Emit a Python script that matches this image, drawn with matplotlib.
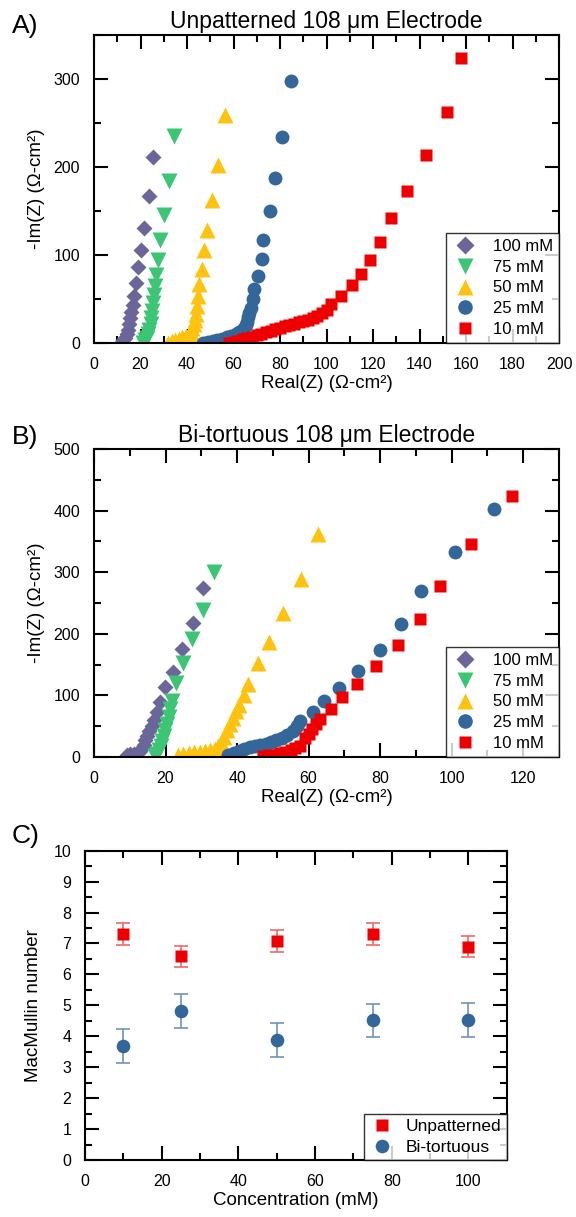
import numpy as np
import matplotlib
matplotlib.use("Agg")
import matplotlib.pyplot as plt
from matplotlib.ticker import MultipleLocator

plt.rcParams['font.family'] = ['Liberation Sans', 'DejaVu Sans']

# Nyquist data, unpatterned electrode (Real, -Im), Ohm-cm2
a_100_re = [11.5, 12.5, 13.3, 14.0, 14.6, 15.1, 15.6, 16.1, 16.6, 17.2, 18.1, 19.1, 20.2, 21.6, 23.6, 25.5]
a_100_im = [0.5, 3, 6, 10, 15, 21, 28, 35, 43, 53, 68, 86, 106, 131, 167, 211.5]
a_75_re = [21.0, 22.0, 22.7, 23.3, 23.8, 24.3, 24.7, 25.1, 25.5, 25.9, 26.3, 26.8, 27.5, 28.5, 30.0, 32.2, 34.4]
a_75_im = [0.5, 3, 6, 10, 15, 21, 28, 36, 45, 55, 65, 77, 94, 117, 145.5, 184, 235.5]
a_50_re = [32.0, 33.5, 35.0, 36.5, 38.0, 39.5, 40.8, 41.8, 42.3, 42.8, 43.3, 43.8, 44.1, 44.6, 45.3, 46.4, 47.4, 48.4, 50.9, 53.4, 56.2]
a_50_im = [0.5, 2, 3.5, 5, 6.5, 8, 10, 13, 17, 21, 26, 33, 42.5, 53, 66.5, 84.3, 105.6, 128, 162, 202, 259]
a_25_re = [47.0, 49.0, 51.0, 53.0, 55.0, 57.0, 59.0, 61.0, 62.5, 63.5, 64.5, 65.2, 65.7, 66.2, 66.8, 67.5, 68.2, 68.9, 70.6, 72.2, 72.5, 75.8, 77.9, 80.9, 84.8]
a_25_im = [0.5, 1.5, 2.5, 3.5, 5, 6.5, 8, 10, 12, 14, 17, 20, 24, 29, 34, 40, 49.4, 60.8, 76, 95.3, 116.6, 150, 187, 234, 298]
a_10_re = [58, 60, 62, 64, 66, 68, 70, 72, 74, 76, 78, 80, 82, 84, 86, 88, 90, 92, 94, 96, 98, 100, 102, 106.2, 111.0, 115.0, 118.9, 122.9, 127.8, 134.8, 142.8, 151.9, 157.7]
a_10_im = [0.5, 1.5, 2.5, 4, 5.5, 7, 9, 10.5, 12.5, 14, 16, 17.5, 19, 20.5, 22, 23.5, 25, 26.5, 28.5, 31, 34, 38, 43.7, 53.9, 65.3, 77.9, 94.2, 114.7, 141.7, 172.8, 213.8, 262.8, 323.6]

# Nyquist data, bi-tortuous electrode
b_100_re = [9.2, 10.2, 11.2, 12.2, 12.9, 13.4, 13.9, 14.3, 14.8, 15.4, 16.1, 16.8, 17.5, 18.4, 19.8, 22.0, 24.6, 27.6, 30.6]
b_100_im = [3, 4.5, 5.5, 6.5, 9, 14, 20, 27, 34, 42, 50, 60, 73, 89.5, 114, 138, 175, 218, 275]
b_75_re = [17.1, 17.6, 18.1, 18.6, 19.1, 19.5, 19.9, 20.4, 20.9, 21.3, 21.8, 22.9, 25.0, 27.5, 30.4, 33.5]
b_75_im = [1, 5, 11, 18, 26, 34, 43, 53, 65, 78, 91, 120, 152, 191, 238.6, 301]
b_50_re = [23.5, 25.0, 26.5, 28.0, 29.5, 31.0, 32.5, 33.8, 34.8, 35.6, 36.4, 37.2, 38.0, 38.9, 39.8, 40.6, 41.8, 43.0, 45.9, 48.8, 52.8, 57.9, 62.7]
b_50_im = [3, 5, 6.5, 7.5, 8.5, 9.5, 11, 13.5, 18, 25, 33, 43, 54, 64, 74, 85, 100, 119, 152, 187, 233, 288.5, 362]
b_25_re = [37.5, 39.0, 40.5, 42.0, 43.5, 45.0, 46.5, 48.0, 49.5, 51.0, 52.5, 54.0, 55.5, 56.8, 57.5, 61.3, 64.3, 68.6, 73.8, 80.0, 85.9, 91.5, 100.9, 111.8]
b_25_im = [3, 7, 10.5, 13.5, 15.5, 17.5, 19.5, 21.5, 24, 27, 31, 36, 42, 50, 58, 73, 91, 112, 139, 174, 216, 269.5, 333.5, 402]
b_10_re = [47.3, 49.0, 50.5, 52.0, 53.5, 55.0, 56.3, 57.5, 59.0, 60.0, 61.0, 62.0, 63.1, 66.3, 69.2, 73.5, 78.7, 85.0, 91.0, 96.6, 105.5, 116.9]
b_10_im = [1, 2.5, 4, 6, 8.5, 11, 14, 18, 30, 38, 46, 54, 62.4, 78.6, 97, 118.8, 147, 181, 224.5, 278, 345, 423]

# MacMullin numbers vs concentration
conc = [10, 25, 50, 75, 100]
mac_unpat = [7.30, 6.59, 7.09, 7.30, 6.90]
mac_unpat_err = [0.35, 0.34, 0.36, 0.35, 0.35]
mac_bitort = [3.69, 4.81, 3.88, 4.52, 4.53]
mac_bitort_err = [0.55, 0.55, 0.55, 0.54, 0.55]

labels = ['100 mM', '75 mM', '50 mM', '25 mM', '10 mM']
colors = ['#6a6699', '#3cc574', '#ffc20e', '#336699', '#ee0000']
markers = ['D', 'v', '^', 'o', 's']
msizes = [8.5, 11, 11, 10, 8.8]


def style_axes(ax):
    for sp in ax.spines.values():
        sp.set_linewidth(1.5)
    ax.tick_params(which='both', direction='in', top=True, right=True,
                   labelsize=11.5, width=1.5, pad=10)
    ax.tick_params(which='major', length=10)
    ax.tick_params(which='minor', length=5)


def nyquist(ax, series, title, xmax, ymax, xmaj, ymaj):
    for (re, im), lab, c, m, s in zip(series, labels, colors, markers, msizes):
        ax.plot(re, im, ls='none', marker=m, ms=s, color=c, mec='none', label=lab)
    ax.set_xlim(0, xmax)
    ax.set_ylim(0, ymax)
    ax.xaxis.set_major_locator(MultipleLocator(xmaj))
    ax.xaxis.set_minor_locator(MultipleLocator(xmaj / 2))
    ax.yaxis.set_major_locator(MultipleLocator(ymaj))
    ax.yaxis.set_minor_locator(MultipleLocator(ymaj / 2))
    style_axes(ax)
    ax.set_title(title, fontsize=16.5, pad=5)
    ax.set_xlabel('Real(Z) (Ω-cm²)', fontsize=13.5, labelpad=2)
    ax.set_ylabel('-Im(Z) (Ω-cm²)', fontsize=13.5, labelpad=6)
    leg = ax.legend(loc='lower right', fontsize=12, frameon=True, fancybox=False,
                    borderaxespad=0.0, handletextpad=0.9, labelspacing=0.35,
                    borderpad=0.35, handlelength=1.6, markerscale=1.05)
    leg.get_frame().set_edgecolor('black')
    leg.get_frame().set_linewidth(1.0)


fig = plt.figure(figsize=(5.76, 12.17), dpi=100)
axA = fig.add_axes([0.1632, 0.7182, 0.8073, 0.2531])
axB = fig.add_axes([0.1632, 0.3780, 0.8073, 0.2531])
axC = fig.add_axes([0.1476, 0.0468, 0.7321, 0.2542])

nyquist(axA, [(a_100_re, a_100_im), (a_75_re, a_75_im), (a_50_re, a_50_im),
              (a_25_re, a_25_im), (a_10_re, a_10_im)],
        'Unpatterned 108 μm Electrode', 200, 350, 20, 100)
nyquist(axB, [(b_100_re, b_100_im), (b_75_re, b_75_im), (b_50_re, b_50_im),
              (b_25_re, b_25_im), (b_10_re, b_10_im)],
        'Bi-tortuous 108 μm Electrode', 130, 500, 20, 100)

# MacMullin panel: error bars first, markers on top
axC.errorbar(conc, mac_unpat, yerr=mac_unpat_err, fmt='none', ecolor='#f06a6a',
             elinewidth=1.2, capsize=5, capthick=1.2)
axC.errorbar(conc, mac_bitort, yerr=mac_bitort_err, fmt='none', ecolor='#6f93bb',
             elinewidth=1.2, capsize=5, capthick=1.2)
axC.plot(conc, mac_unpat, ls='none', marker='s', ms=8.7, color='#ee0000',
         mec='none', label='Unpatterned')
axC.plot(conc, mac_bitort, ls='none', marker='o', ms=9.8, color='#336699',
         mec='none', label='Bi-tortuous')
axC.set_xlim(0, 110)
axC.set_ylim(0, 10)
axC.xaxis.set_major_locator(MultipleLocator(20))
axC.xaxis.set_minor_locator(MultipleLocator(10))
axC.yaxis.set_major_locator(MultipleLocator(1))
axC.yaxis.set_minor_locator(MultipleLocator(0.5))
style_axes(axC)
axC.set_xlabel('Concentration (mM)', fontsize=13.5, labelpad=2)
axC.set_ylabel('MacMullin number', fontsize=13.5, labelpad=8)
legC = axC.legend(loc='lower right', fontsize=12.5, frameon=True, fancybox=False,
                  borderaxespad=0.0, handletextpad=0.7, labelspacing=0.3,
                  borderpad=0.3, handlelength=1.4)
legC.get_frame().set_edgecolor('black')
legC.get_frame().set_linewidth(1.0)

fig.text(0.020, 0.979, 'A)', fontsize=19, va='center')
fig.text(0.020, 0.641, 'B)', fontsize=19, va='center')
fig.text(0.020, 0.313, 'C)', fontsize=19, va='center')

fig.savefig('out.png', dpi=100)
